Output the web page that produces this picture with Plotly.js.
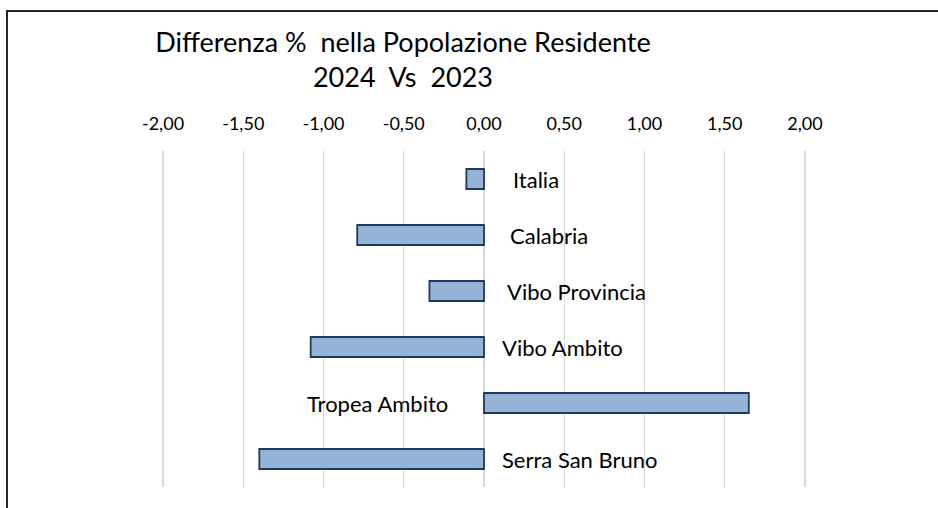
<!DOCTYPE html>
<html>
<head>
<meta charset="utf-8">
<script src="https://cdn.plot.ly/plotly-3.0.1.min.js"></script>
<style>
  html, body { margin: 0; padding: 0; background: #ffffff; }
  #chart { width: 938px; height: 508px; }
</style>
</head>
<body>
<div id="chart"></div>
<script>
// Data
const categories = ["Italia", "Calabria", "Vibo Provincia", "Vibo Ambito", "Tropea Ambito", "Serra San Bruno"];
const diffPct = [-0.11, -0.79, -0.34, -1.08, 1.65, -1.40];
const tickVals = [-2, -1.5, -1, -0.5, 0, 0.5, 1, 1.5, 2];
const tickText = ["-2,00", "-1,50", "-1,00", "-0,50", "0,00", "0,50", "1,00", "1,50", "2,00"];

// Styling (label pixel offsets from the zero line)
const labelShift = [27, 24, 21, 16, -34, 16];
const FONT = "Lato, 'Open Sans', sans-serif";

const trace = {
  type: "bar",
  orientation: "h",
  x: diffPct,
  y: categories,
  marker: { color: "#95B3D7", line: { color: "#1F3A5F", width: 1.8 } },
  hoverinfo: "x+y"
};

const annotations = categories.map((c, i) => ({
  x: 0, y: c, xref: "x", yref: "y",
  text: c,
  showarrow: false,
  xanchor: diffPct[i] < 0 ? "left" : "right",
  yanchor: "middle",
  xshift: labelShift[i],
  font: { family: FONT, size: 22, color: "#000000" }
}));

const L = 155, R = 125, T = 151, B = 21;
const PW = 938 - L - R, PH = 508 - T - B;

const layout = {
  width: 938, height: 508,
  margin: { l: L, r: R, t: T, b: B, pad: 0 },
  paper_bgcolor: "#ffffff", plot_bgcolor: "#ffffff",
  showlegend: false,
  bargap: 0.643,
  title: {
    text: "Differenza %\u00a0\u00a0nella Popolazione Residente<br>2024\u00a0\u00a0Vs\u00a0\u00a02023",
    font: { family: FONT, size: 27, color: "#000000" },
    x: 403 / 938, xanchor: "center", xref: "container",
    y: 1 - 52 / 508, yanchor: "top", yref: "container"
  },
  xaxis: {
    side: "top",
    range: [-2.05, 2.05],
    tickvals: tickVals, ticktext: tickText,
    showgrid: true, gridcolor: "#d9d9d9", gridwidth: 1.2,
    zeroline: false, showline: false,
    ticks: "", ticklabelstandoff: 16,
    tickfont: { family: FONT, size: 18, color: "#000000" },
    fixedrange: true
  },
  yaxis: {
    type: "category",
    autorange: "reversed",
    showticklabels: false, showgrid: false, zeroline: false, showline: false, ticks: "",
    fixedrange: true
  },
  annotations: annotations,
  shapes: [{
    type: "rect", xref: "paper", yref: "paper",
    x0: (7 - L) / PW, x1: (945 - L) / PW,
    y0: (PH + T - 515) / PH, y1: (PH + T - 11) / PH,
    line: { color: "#262626", width: 2 }, fillcolor: "rgba(0,0,0,0)", layer: "below"
  }]
};

Plotly.newPlot("chart", [trace], layout, { displayModeBar: false, staticPlot: true });
</script>
</body>
</html>
